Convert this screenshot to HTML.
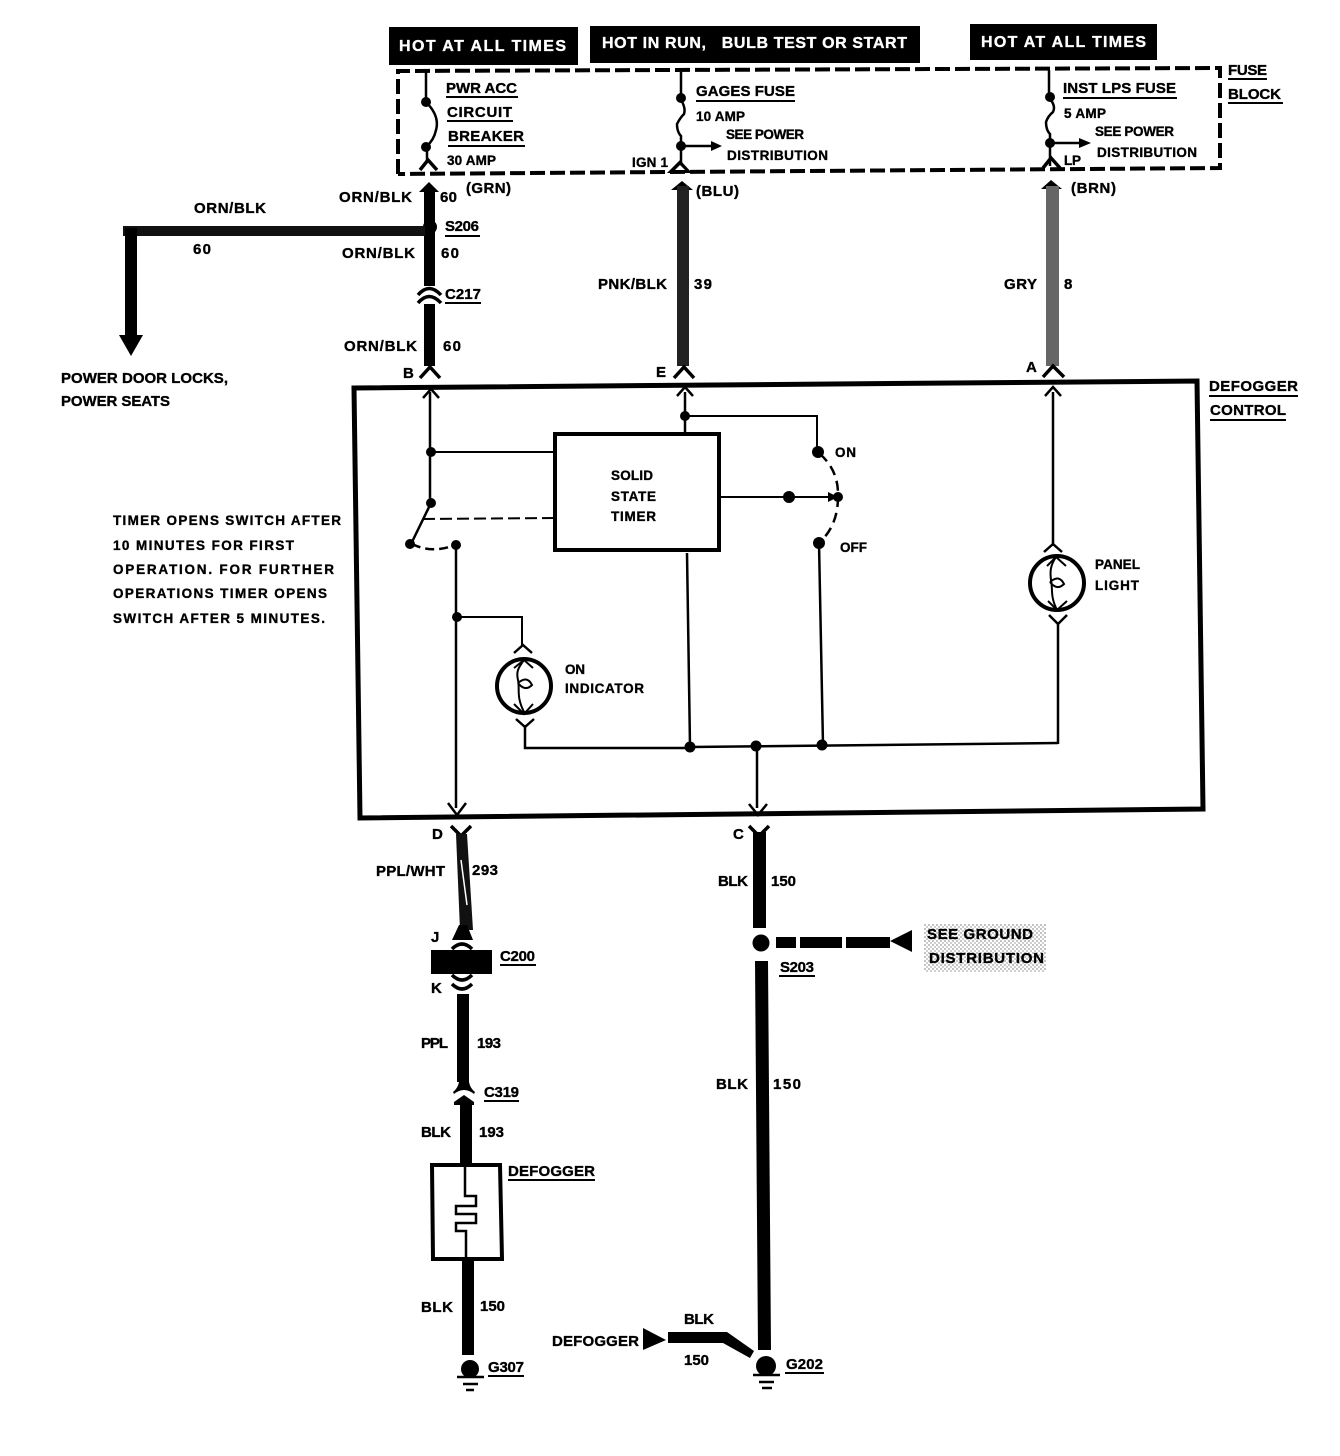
<!DOCTYPE html>
<html><head><meta charset="utf-8"><title>Defogger wiring diagram</title>
<style>
html,body{margin:0;padding:0;background:#fff}
svg{display:block}
text{font-family:"Liberation Sans",sans-serif;font-weight:bold;fill:#000;font-size:15px;stroke:#000;stroke-width:.35}
.s{font-size:13.5px}
.w{fill:#fff;stroke:#fff;font-size:16px}
.u{stroke:#000;stroke-width:2;fill:none}
.t{stroke:#000;stroke-width:2.5;fill:none}
.c{stroke:#000;stroke-width:3.5;fill:none}
</style></head><body>
<svg width="1340" height="1456" viewBox="0 0 1340 1456" xmlns="http://www.w3.org/2000/svg">
<defs>
<pattern id="sp" width="4" height="4" patternUnits="userSpaceOnUse"><rect width="2" height="2" fill="#555"/><rect x="2" y="2" width="2" height="2" fill="#777"/></pattern>
</defs>
<rect width="1340" height="1456" fill="#fff"/>

<!-- header bars -->
<rect x="389" y="27" width="189" height="38"/>
<rect x="590" y="26" width="330" height="37"/>
<rect x="970" y="24" width="187" height="36"/>
<text class="w" x="399" y="51" textLength="167" lengthAdjust="spacing">HOT AT ALL TIMES</text>
<text class="w" x="602" y="48" textLength="305" lengthAdjust="spacing" xml:space="preserve">HOT IN RUN,   BULB TEST OR START</text>
<text class="w" x="981" y="47" textLength="165" lengthAdjust="spacing">HOT AT ALL TIMES</text>

<!-- fuse block -->
<path d="M398 174V71L1220 68V168L398 174" fill="none" stroke="#000" stroke-width="4" stroke-dasharray="15 5"/>
<text x="1228" y="75" textLength="39" lengthAdjust="spacing">FUSE</text>
<path class="u" d="M1228 79H1267"/>
<text x="1228" y="99" textLength="53" lengthAdjust="spacing">BLOCK</text>
<path class="u" d="M1228 103H1283"/>

<!-- left fuse -->
<path class="t" d="M426 72V100"/>
<circle cx="426" cy="102" r="5"/><circle cx="426" cy="147" r="5"/>
<path class="t" d="M426 102Q440 116 436 130Q434 140 426 147"/>
<path class="c" d="M420 170L428 160L437 170"/>
<path class="t" d="M427 150V160"/>
<text x="446" y="93" textLength="71" lengthAdjust="spacing">PWR ACC</text><path class="u" d="M446 97H518"/>
<text x="447" y="117" textLength="65" lengthAdjust="spacing">CIRCUIT</text><path class="u" d="M447 121H513"/>
<text x="448" y="141" textLength="76" lengthAdjust="spacing">BREAKER</text><path class="u" d="M448 146H525"/>
<text class="s" x="447" y="165" textLength="49" lengthAdjust="spacing">30 AMP</text>

<!-- middle fuse -->
<path class="t" d="M681 72V98"/>
<circle cx="681" cy="98" r="5"/><circle cx="681" cy="146" r="5"/>
<path class="t" d="M681 100Q686 108 684 114Q680 118 677 124Q677 132 681 136V166"/>
<path class="t" d="M685 146H712"/><path d="M722 146L711 141V151Z"/>
<path d="M667 173L680 160L692 173Z"/><path d="M675 170L680 165L685 170Z" fill="#fff"/>
<text x="696" y="96" textLength="99" lengthAdjust="spacing">GAGES FUSE</text><path class="u" d="M696 101H795"/>
<text class="s" x="696" y="121" textLength="49" lengthAdjust="spacing">10 AMP</text>
<text class="s" x="726" y="139" textLength="78" lengthAdjust="spacing">SEE POWER</text>
<text class="s" x="727" y="160" textLength="101" lengthAdjust="spacing">DISTRIBUTION</text>
<text class="s" x="632" y="167" textLength="36" lengthAdjust="spacing">IGN 1</text>

<!-- right fuse -->
<path class="t" d="M1049 70V96"/>
<circle cx="1050" cy="97" r="5"/><circle cx="1050" cy="143" r="5"/>
<path class="t" d="M1050 99Q1056 106 1053 112Q1048 116 1046 122Q1046 130 1050 134V166"/>
<path class="t" d="M1054 143H1080"/><path d="M1091 143L1079 138V148Z"/>
<path class="c" d="M1043 168L1051 158L1060 168"/>
<text x="1063" y="93" textLength="113" lengthAdjust="spacing">INST LPS FUSE</text><path class="u" d="M1063 98H1177"/>
<text class="s" x="1064" y="118" textLength="42" lengthAdjust="spacing">5 AMP</text>
<text class="s" x="1095" y="136" textLength="79" lengthAdjust="spacing">SEE POWER</text>
<text class="s" x="1097" y="157" textLength="100" lengthAdjust="spacing">DISTRIBUTION</text>
<text class="s" x="1064" y="165" textLength="17" lengthAdjust="spacing">LP</text>

<!-- wire 60 -->
<path d="M419 192L429 182L439 192Z"/>
<path d="M424 188H435V286H424Z"/>
<path d="M424 304H435V366H424Z"/>
<circle cx="430" cy="227" r="7"/>
<path class="c" d="M418 295Q429 282 441 295"/>
<path class="c" d="M418 303Q429 290 441 303"/>
<path class="c" d="M420 378L430 367L440 378"/>
<path d="M123 226H425V236H123Z" fill="#111"/>
<path d="M125 228H137V336H125Z"/>
<path d="M119 335H143L131 356Z"/>
<text x="339" y="202" textLength="73" lengthAdjust="spacing">ORN/BLK</text>
<text x="440" y="202" textLength="17" lengthAdjust="spacing">60</text>
<text x="466" y="193" textLength="45" lengthAdjust="spacing">(GRN)</text>
<text x="194" y="213" textLength="72" lengthAdjust="spacing">ORN/BLK</text>
<text x="193" y="254" textLength="18" lengthAdjust="spacing">60</text>
<text x="445" y="231" textLength="34" lengthAdjust="spacing">S206</text><path class="u" d="M445 236H480"/>
<text x="342" y="258" textLength="73" lengthAdjust="spacing">ORN/BLK</text>
<text x="441" y="258" textLength="18" lengthAdjust="spacing">60</text>
<text x="445" y="299" textLength="36" lengthAdjust="spacing">C217</text><path class="u" d="M445 303H481"/>
<text x="344" y="351" textLength="73" lengthAdjust="spacing">ORN/BLK</text>
<text x="443" y="351" textLength="18" lengthAdjust="spacing">60</text>
<text x="61" y="383" textLength="167" lengthAdjust="spacing">POWER DOOR LOCKS,</text>
<text x="61" y="406" textLength="109" lengthAdjust="spacing">POWER SEATS</text>

<!-- wire 39 -->
<path d="M671 190L682 181L693 190Z"/>
<path d="M677 186H689V366H677Z" fill="#222"/>
<path class="c" d="M674 378L684 367L694 378"/>
<text x="696" y="196" textLength="43" lengthAdjust="spacing">(BLU)</text>
<text x="598" y="289" textLength="69" lengthAdjust="spacing">PNK/BLK</text>
<text x="694" y="289" textLength="18" lengthAdjust="spacing">39</text>

<!-- wire 8 -->
<path d="M1041 189L1051 180L1062 189Z"/>
<path d="M1046 186H1059V366H1046Z" fill="#666"/>
<path class="c" d="M1043 377L1053 366L1064 377"/>
<text x="1071" y="193" textLength="45" lengthAdjust="spacing">(BRN)</text>
<text x="1004" y="289" textLength="33" lengthAdjust="spacing">GRY</text>
<text x="1064" y="289" textLength="9" lengthAdjust="spacing">8</text>

<text x="403" y="378" textLength="11" lengthAdjust="spacing">B</text>
<text x="656" y="377" textLength="11" lengthAdjust="spacing">E</text>
<text x="1026" y="372" textLength="11" lengthAdjust="spacing">A</text>

<!-- defogger control box -->
<path d="M354 388L1197 381L1203 809L360 818Z" fill="none" stroke="#000" stroke-width="5"/>
<text x="1209" y="391" textLength="89" lengthAdjust="spacing">DEFOGGER</text><path class="u" d="M1209 396H1298"/>
<text x="1210" y="415" textLength="76" lengthAdjust="spacing">CONTROL</text><path class="u" d="M1210 420H1286"/>

<!-- box arrows -->
<path class="t" d="M423 398L431 389L439 398"/>
<path class="t" d="M677 396L685 387L693 396"/>
<path class="t" d="M1045 396L1053 387L1061 396"/>

<!-- left branch and switch -->
<path class="t" d="M430 392V502"/>
<circle cx="431" cy="452" r="5"/>
<path class="u" d="M431 452H555"/>
<circle cx="431" cy="503" r="5"/>
<path class="t" d="M431 503L411 544"/>
<circle cx="410" cy="544" r="5"/>
<path class="u" stroke-dasharray="12 5" d="M423 519L555 518"/>
<path class="t" stroke-dasharray="9 5" d="M412 544Q432 554 455 545"/>
<circle cx="456" cy="545" r="5"/>
<path class="t" d="M456 545V808"/>
<circle cx="457" cy="617" r="5"/>
<path class="u" d="M457 617H522V645"/>

<!-- timer -->
<rect x="555" y="434" width="164" height="116" fill="#fff" stroke="#000" stroke-width="4"/>
<text class="s" x="611" y="480" textLength="42" lengthAdjust="spacing">SOLID</text>
<text class="s" x="611" y="501" textLength="45" lengthAdjust="spacing">STATE</text>
<text class="s" x="611" y="521" textLength="45" lengthAdjust="spacing">TIMER</text>
<path class="t" d="M685 392V433"/>
<circle cx="685" cy="416" r="5"/>
<path class="u" d="M685 416H817V448"/>
<circle cx="818" cy="452" r="6"/>
<path class="t" stroke-dasharray="10 6" d="M820 454Q838 470 838 494"/>
<path class="u" d="M719 497H836"/>
<circle cx="789" cy="497" r="6"/>
<path d="M828 492L838 497L828 502Z"/>
<circle cx="838" cy="497" r="5"/>
<path class="t" stroke-dasharray="10 6" d="M838 497Q838 525 820 542"/>
<circle cx="819" cy="543" r="6"/>
<path class="t" d="M819 543L823 745"/>
<text class="s" x="835" y="457" textLength="21" lengthAdjust="spacing">ON</text>
<text class="s" x="840" y="552" textLength="27" lengthAdjust="spacing">OFF</text>
<path class="t" d="M687 553L690 746"/>

<!-- on indicator -->
<path class="t" d="M514 653L523 645L532 653"/>
<circle cx="524" cy="686" r="27" fill="#fff" stroke="#000" stroke-width="4"/>
<path class="u" d="M524 660C518 668 516 672 518 680C520 690 516 696 524 712"/>
<path class="u" d="M518 683Q527 675 532 685Q525 692 518 683"/>
<path class="u" d="M514 668L524 660L533 668M514 704L524 714L533 704"/>
<path class="t" d="M516 719L525 727L534 719"/>
<path class="t" d="M525 725V748H690"/>
<text class="s" x="565" y="674" textLength="20" lengthAdjust="spacing">ON</text>
<text class="s" x="565" y="693" textLength="79" lengthAdjust="spacing">INDICATOR</text>

<!-- bottom bus -->
<path class="t" d="M690 747L1058 743"/>
<circle cx="690" cy="747" r="5.5"/><circle cx="756" cy="746" r="5.5"/><circle cx="822" cy="745" r="5.5"/>
<path class="t" d="M757 747V808"/>
<path class="t" d="M448 803L457 815L466 803"/>
<path class="t" d="M749 804L758 815L767 804"/>

<!-- panel light -->
<path class="t" d="M1053 392V546"/>
<path class="t" d="M1044 552L1053 544L1062 552"/>
<circle cx="1057" cy="583" r="27" fill="#fff" stroke="#000" stroke-width="4"/>
<path class="u" d="M1056 557C1050 566 1050 572 1051 580C1053 590 1050 596 1057 610"/>
<path class="u" d="M1050 582Q1059 574 1064 584Q1057 591 1050 582"/>
<path class="u" d="M1047 566L1056 557L1066 566M1048 601L1057 610L1067 601"/>
<path class="t" d="M1049 615L1058 624L1067 615"/>
<path class="t" d="M1058 622V744"/>
<text class="s" x="1095" y="569" textLength="45" lengthAdjust="spacing">PANEL</text>
<text class="s" x="1095" y="590" textLength="44" lengthAdjust="spacing">LIGHT</text>

<!-- note -->
<text class="s" x="113" y="525" textLength="228" lengthAdjust="spacing">TIMER OPENS SWITCH AFTER</text>
<text class="s" x="113" y="550" textLength="181" lengthAdjust="spacing">10 MINUTES FOR FIRST</text>
<text class="s" x="113" y="574" textLength="221" lengthAdjust="spacing">OPERATION.  FOR FURTHER</text>
<text class="s" x="113" y="598" textLength="214" lengthAdjust="spacing">OPERATIONS TIMER OPENS</text>
<text class="s" x="113" y="623" textLength="212" lengthAdjust="spacing">SWITCH AFTER 5 MINUTES.</text>

<!-- lower left wire -->
<text x="432" y="839" textLength="11" lengthAdjust="spacing">D</text>
<path class="c" d="M451 826L461 836L471 826"/>
<path d="M456 834H467L473 930H460Z" fill="#111"/>
<path d="M461 860L467 905" stroke="#fff" stroke-width="1.5"/>
<text x="376" y="876" textLength="69" lengthAdjust="spacing">PPL/WHT</text>
<text x="472" y="875" textLength="26" lengthAdjust="spacing">293</text>
<text x="431" y="942" textLength="9" lengthAdjust="spacing">J</text>
<path d="M452 940L459 925H467L473 940Z"/>
<path class="c" d="M452 949Q462 939 472 949"/>
<rect x="431" y="950" width="61" height="24"/>
<text x="500" y="961" textLength="35" lengthAdjust="spacing">C200</text><path class="u" d="M500 965H536"/>
<path class="c" d="M452 975Q462 985 472 975"/>
<path class="c" d="M452 984Q462 994 472 984"/>
<text x="431" y="993" textLength="10" lengthAdjust="spacing">K</text>
<path d="M457 994H469V1082H457Z"/>
<text x="421" y="1048" textLength="27" lengthAdjust="spacing">PPL</text>
<text x="477" y="1048" textLength="24" lengthAdjust="spacing">193</text>
<path d="M453 1092Q458 1088 459 1082H469Q470 1088 475 1092L474 1094Q464 1086 454 1094Z"/>
<path d="M454 1102L464 1095L474 1102V1105H454Z"/>
<rect x="460" y="1102" width="12" height="64"/>
<text x="484" y="1097" textLength="35" lengthAdjust="spacing">C319</text><path class="u" d="M484 1101H519"/>
<text x="421" y="1137" textLength="30" lengthAdjust="spacing">BLK</text>
<text x="479" y="1137" textLength="25" lengthAdjust="spacing">193</text>

<!-- defogger element -->
<path d="M432 1165H500L502 1259H433Z" fill="#fff" stroke="#000" stroke-width="4"/>
<path class="t" d="M465 1167V1196H476V1206H456V1214H476V1223H456V1231H466V1258"/>
<text x="508" y="1176" textLength="87" lengthAdjust="spacing">DEFOGGER</text><path class="u" d="M508 1180H595"/>
<rect x="462" y="1259" width="12" height="96"/>
<text x="421" y="1312" textLength="32" lengthAdjust="spacing">BLK</text>
<text x="480" y="1311" textLength="25" lengthAdjust="spacing">150</text>
<circle cx="470" cy="1369" r="9"/>
<path class="t" d="M457 1377H484M463 1384H478M466 1390H474"/>
<text x="488" y="1372" textLength="36" lengthAdjust="spacing">G307</text><path class="u" d="M488 1376H524"/>

<!-- right wire -->
<text x="733" y="839" textLength="10" lengthAdjust="spacing">C</text>
<path class="c" d="M749 826L759 836L769 826"/>
<rect x="753" y="832" width="13" height="96"/>
<text x="718" y="886" textLength="30" lengthAdjust="spacing">BLK</text>
<text x="771" y="886" textLength="25" lengthAdjust="spacing">150</text>
<circle cx="761" cy="943" r="8.5"/>
<path d="M776 937H796V948H776ZM800 937H842V948H800ZM846 937H890V948H846Z"/>
<path d="M912 930V952L890 941Z"/>
<rect x="924" y="924" width="122" height="48" fill="url(#sp)" opacity=".35"/>
<text x="927" y="939" textLength="106" lengthAdjust="spacing">SEE GROUND</text>
<text x="929" y="963" textLength="115" lengthAdjust="spacing">DISTRIBUTION</text>
<text x="780" y="972" textLength="34" lengthAdjust="spacing">S203</text><path class="u" d="M779 976H815"/>
<path d="M755 961H768L771 1350H758Z"/>
<text x="716" y="1089" textLength="32" lengthAdjust="spacing">BLK</text>
<text x="773" y="1089" textLength="28" lengthAdjust="spacing">150</text>
<circle cx="766" cy="1366" r="10"/>
<path class="t" d="M753 1375H780M759 1382H774M762 1388H772"/>
<text x="786" y="1369" textLength="37" lengthAdjust="spacing">G202</text><path class="u" d="M785 1373H824"/>
<path d="M643 1328V1350L666 1340Z"/>
<path d="M668 1332H727L754 1351L750 1358L723 1343H668Z"/>
<text x="552" y="1346" textLength="87" lengthAdjust="spacing">DEFOGGER</text>
<text x="684" y="1324" textLength="30" lengthAdjust="spacing">BLK</text>
<text x="684" y="1365" textLength="25" lengthAdjust="spacing">150</text>
</svg>
</body></html>
